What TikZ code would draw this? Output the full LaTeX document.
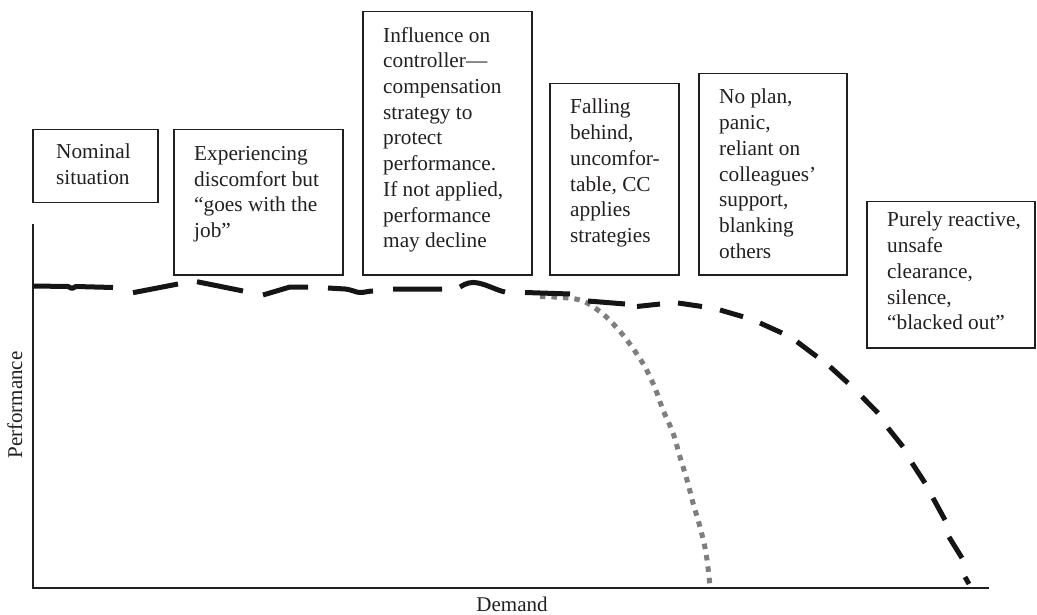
\documentclass[tikz,border=0pt]{standalone}
\usepackage{fontspec}
\setmainfont{Liberation Serif}
\definecolor{ink}{HTML}{231F20}
\definecolor{curveblack}{HTML}{151515}
\definecolor{curvegrey}{HTML}{7E7E7E}
\begin{document}
\begin{tikzpicture}[x=1pt,y=-1pt,
  stagebox/.style={draw=ink,line width=1.5pt,rectangle,inner sep=0pt,anchor=north west},
  stagetext/.style={anchor=north west,inner sep=0pt,align=left,text=ink,
    font=\fontsize{21.3}{25.7}\selectfont},
  axisline/.style={draw=ink,line width=1.6pt},
  axislabel/.style={text=ink,inner sep=0pt,font=\fontsize{21}{25}\selectfont},
  demandcurve/.style={draw=curveblack,line width=5pt,line cap=butt,line join=round},
  failcurve/.style={draw=curvegrey,line width=5pt,line cap=butt,dash pattern=on 5.5pt off 6pt}]
\useasboundingbox (0,0) rectangle (1037,615);

% stage boxes
\node[stagebox,minimum width=125pt,minimum height=73pt] (b1) at (32,129) {};
\node[stagebox,minimum width=169pt,minimum height=145pt] (b2) at (173,129) {};
\node[stagebox,minimum width=169pt,minimum height=263pt] (b3) at (362,11) {};
\node[stagebox,minimum width=129pt,minimum height=191pt] (b4) at (549,83) {};
\node[stagebox,minimum width=148pt,minimum height=201pt] (b5) at (698,73) {};
\node[stagebox,minimum width=168pt,minimum height=146pt] (b6) at (866,201) {};

% stage descriptions
\node[stagetext] (t1) at (56,144) {Nominal\\situation};
\node[stagetext] (t2) at (194,146) {Experiencing\\discomfort but\\“goes with the\\job”};
\node[stagetext] (t3) at (383,27) {Influence on\\controller—\\compensation\\strategy to\\protect\\performance.\\If not applied,\\performance\\may decline};
\node[stagetext] (t4) at (570,99) {Falling\\behind,\\uncomfor-\\table, CC\\applies\\strategies};
\node[stagetext] (t5) at (719,89) {No plan,\\panic,\\reliant on\\colleagues’\\support,\\blanking\\others};
\node[stagetext] (t6) at (887,212) {Purely reactive,\\unsafe\\clearance,\\silence,\\“blacked out”};

% axes
\coordinate (ytop) at (33,224);
\coordinate (origin) at (33,588);
\coordinate (xend) at (989,588);
\draw[axisline] (ytop) -- (origin) -- (xend);
\node[axislabel,rotate=90,anchor=base] (ylab) at (22,405) {Performance};
\node[axislabel,anchor=base] (xlab) at (512,611) {Demand};

% performance without compensation (grey dotted)
\draw[failcurve] plot[smooth,tension=0.6] coordinates {(540,296.5) (578,299.5) (600,311.7) (617,328)
  (632,347) (645,367) (655,388) (663,410) (673,433) (680,457) (687,480)
  (693,503) (700,527) (706,553) (710,586)};

% performance with compensation (black dashed, hand drawn)
\draw[demandcurve]
  (33,286) -- (68,286.5) -- (72,288.5) -- (76,286.5) -- (113,287.5)
  (133,292.7) -- (178,284)
  (197,281.7) -- (243,291)
  (263,295) -- (290,287) -- (308,287)
  (328,288) -- (345,289) .. controls (353,290) and (356,292.5) .. (360,292.5) .. controls (365,292.5) and (369,291) .. (373,291)
  (393,289) -- (442,289)
  (460,287) .. controls (466,283) and (472,281.5) .. (478,283) .. controls (488,285) and (496,290) .. (505,292)
  (525,292.5) -- (570,294)
  (588,301) -- (625,304)
  (637,306.5) -- (660,304)
  (678,303) -- (702,306.5)
  (720,310) -- (743,316.7)
  (760,323) -- (782,333)
  (797,341.7) -- (817,356.7)
  (830,366.7) -- (848,383)
  (862,396.7) -- (878,413)
  (888,428) -- (903,446.7)
  (912,463) -- (925,483)
  (933,498) -- (945,520)
  (949,537) -- (962,558)
  (965,577) -- (969,584);
\end{tikzpicture}
\end{document}
